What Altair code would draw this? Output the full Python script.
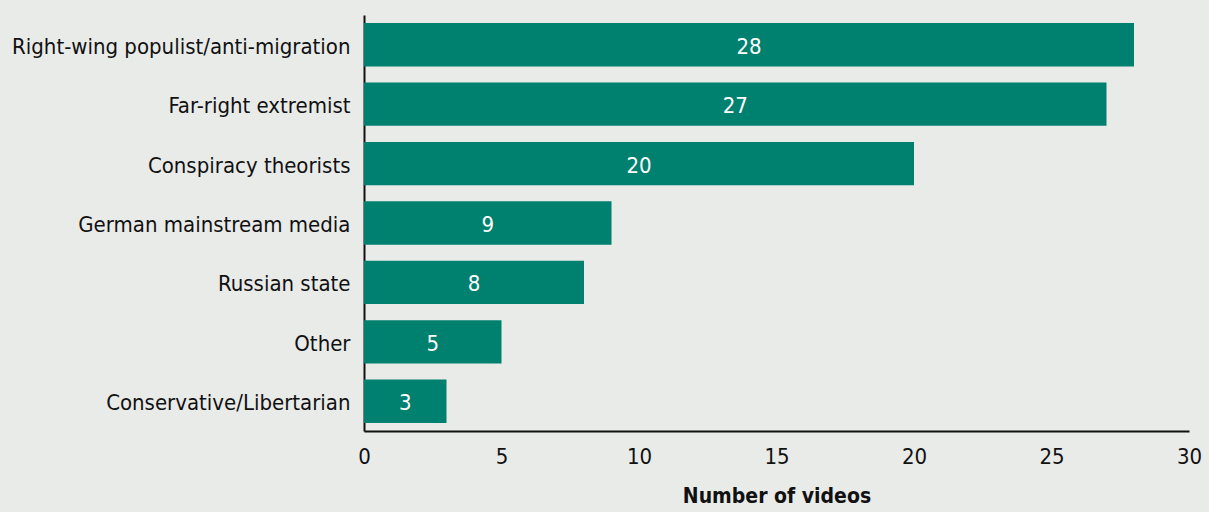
import altair as alt
import pandas as pd

categories = [
    "Right-wing populist/anti-migration",
    "Far-right extremist",
    "Conspiracy theorists",
    "German mainstream media",
    "Russian state",
    "Other",
    "Conservative/Libertarian",
]
values = [28, 27, 20, 9, 8, 5, 3]

df = pd.DataFrame({"category": categories, "videos": values})

FONT = "DejaVu Sans Condensed, Roboto, sans-serif"

base = alt.Chart(df).encode(
    y=alt.Y(
        "category:N",
        sort=categories,
        title=None,
        scale=alt.Scale(paddingInner=0.27, paddingOuter=0.135),
        axis=alt.Axis(
            ticks=False,
            domainColor="#111111",
            domainWidth=2,
            labelFont=FONT,
            labelFontSize=22,
            labelColor="#111111",
            labelPadding=14,
            labelOffset=2,
            labelLimit=400,
        ),
    ),
    x=alt.X(
        "videos:Q",
        title="Number of videos",
        scale=alt.Scale(domain=[0, 30], nice=False),
        axis=alt.Axis(
            values=[0, 5, 10, 15, 20, 25, 30],
            ticks=False,
            grid=False,
            labelFlush=False,
            domainColor="#111111",
            domainWidth=2,
            labelFont=FONT,
            labelFontSize=22,
            labelColor="#111111",
            labelPadding=15,
            titleFont=FONT,
            titleFontSize=21,
            titleFontWeight="bold",
            titleColor="#111111",
            titlePadding=18,
        ),
    ),
)

bars = base.mark_bar(color="#00806f")
labels = base.mark_text(
    color="white", font=FONT, fontSize=22, baseline="middle", align="center", dy=2
).encode(x=alt.X("mid:Q"), text="videos:Q").transform_calculate(mid="datum.videos / 2")

chart = (
    (bars + labels)
    .properties(
        width=825,
        height=416,
        background="#e9ebe9",
        autosize=alt.AutoSizeParams(type="none"),
        padding={"left": 364, "top": 15, "right": 20, "bottom": 81},
    )
    .configure_view(stroke=None)
)

chart.save("out.html", embed_options={"renderer": "svg", "actions": False})
